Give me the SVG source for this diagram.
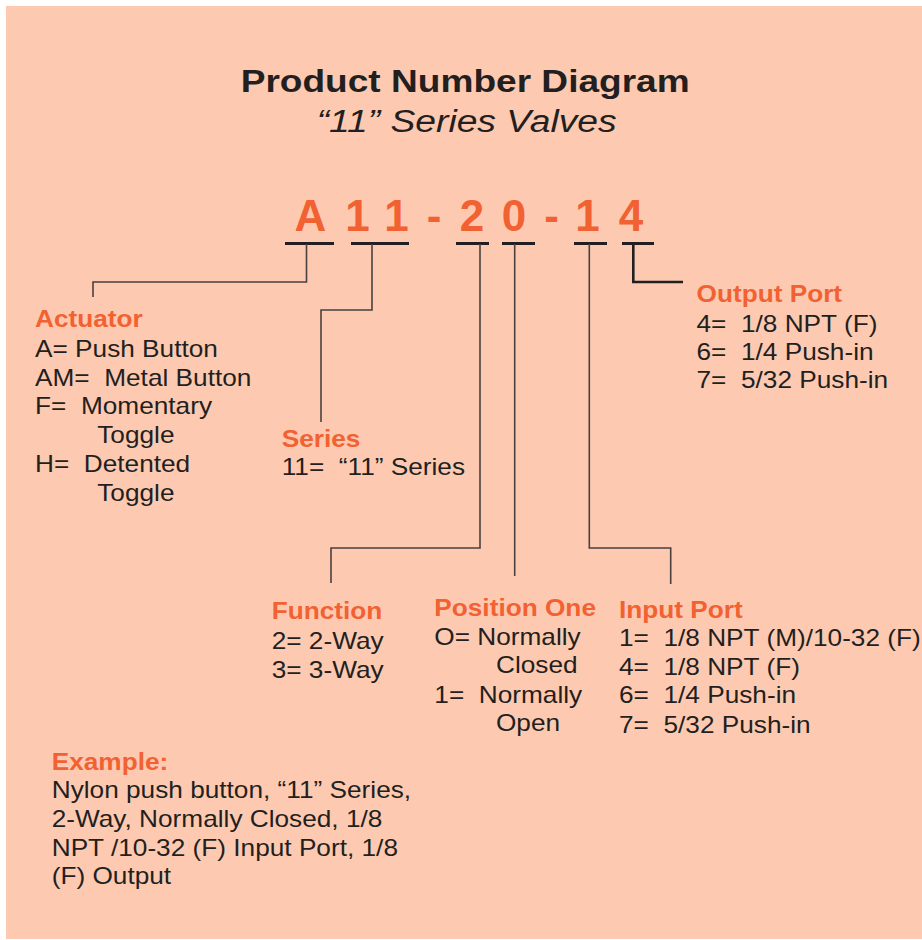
<svg xmlns="http://www.w3.org/2000/svg" width="922" height="940" viewBox="0 0 922 940" xml:space="preserve">
<style>
text{white-space:pre}
.t{font-family:"Liberation Sans",Arial,sans-serif;font-size:23px;fill:#231F20}
.h{font-family:"Liberation Sans",Arial,sans-serif;font-size:23px;font-weight:bold;fill:#F26131}
.code{font-family:"Liberation Sans",Arial,sans-serif;font-size:44px;font-weight:bold;fill:#F26131;text-anchor:middle}
.u{stroke:#231F20;stroke-width:3;fill:none}
.c{stroke:#4a4040;stroke-width:1.6;fill:none}
</style>
<rect x="0" y="0" width="922" height="940" fill="#FFFFFF"/>
<rect x="6" y="6" width="916" height="933" fill="#FDCAB1"/>
<g id="title">
<text x="240.7" y="92.3" textLength="449" lengthAdjust="spacingAndGlyphs" style="font-family:'Liberation Sans',Arial,sans-serif;font-size:31px;font-weight:bold;fill:#231F20">Product Number Diagram</text>
<text x="316.7" y="132.3" textLength="300" lengthAdjust="spacingAndGlyphs" style="font-family:'Liberation Sans',Arial,sans-serif;font-size:31px;font-style:italic;fill:#231F20">“11” Series Valves</text>
</g>
<g id="code">
<text class="code" x="310.3" y="230.7">A</text>
<text class="code" x="357.5" y="230.7">1</text>
<text class="code" x="396.5" y="230.7">1</text>
<text class="code" x="434" y="230.7">-</text>
<text class="code" x="472" y="230.7">2</text>
<text class="code" x="514" y="230.7">0</text>
<text class="code" x="551.5" y="230.7">-</text>
<text class="code" x="587.5" y="230.7">1</text>
<text class="code" x="631" y="230.7">4</text>
<path class="u" d="M285 243.5H334M351 243.5H409M456 243.5H489M502 243.5H535M574 243.5H607M622 243.5H654"/>
</g>
<g id="connectors">
<path class="c" d="M306.5 244V282H93V297"/>
<path class="c" d="M372 244V310H321V422"/>
<path class="c" d="M480 244V548H331V583"/>
<path class="c" d="M514.7 244V576"/>
<path class="c" d="M589.3 244V548H670.7V584"/>
<path d="M633.3 244V282H683" stroke="#231F20" stroke-width="2.6" fill="none"/>
</g>
<g id="actuator" transform="translate(35,0) scale(1.14,1)">
<text class="h" x="0" y="327.3">Actuator</text>
<text class="t" x="0" y="357.3">A= Push Button</text>
<text class="t" x="0" y="385.7">AM=  Metal Button</text>
<text class="t" x="0" y="414.5">F=  Momentary</text>
<text class="t" x="54.6" y="443.3">Toggle</text>
<text class="t" x="0" y="472.3">H=  Detented</text>
<text class="t" x="54.6" y="501">Toggle</text>
</g>
<g id="series" transform="translate(281.7,0) scale(1.14,1)">
<text class="h" x="0" y="446.7">Series</text>
<text class="t" x="0" y="475">11=  “11” Series</text>
</g>
<g id="output-port" transform="translate(696.5,0) scale(1.14,1)">
<text class="h" x="0" y="301.7">Output Port</text>
<text class="t" x="0" y="331.7">4=  1/8 NPT (F)</text>
<text class="t" x="0" y="360">6=  1/4 Push-in</text>
<text class="t" x="0" y="388.3">7=  5/32 Push-in</text>
</g>
<g id="function" transform="translate(271.7,0) scale(1.14,1)">
<text class="h" x="0" y="619.3">Function</text>
<text class="t" x="0" y="649">2= 2-Way</text>
<text class="t" x="0" y="677.7">3= 3-Way</text>
</g>
<g id="position-one" transform="translate(434.3,0) scale(1.14,1)">
<text class="h" x="0" y="615.7">Position One</text>
<text class="t" x="0" y="645">O= Normally</text>
<text class="t" x="54.1" y="673.3">Closed</text>
<text class="t" x="0" y="702.7">1=  Normally</text>
<text class="t" x="54.1" y="731">Open</text>
</g>
<g id="input-port" transform="translate(619,0) scale(1.14,1)">
<text class="h" x="0" y="618.3">Input Port</text>
<text class="t" x="0" y="646">1=  1/8 NPT (M)/10-32 (F)</text>
<text class="t" x="0" y="675">4=  1/8 NPT (F)</text>
<text class="t" x="0" y="703.3">6=  1/4 Push-in</text>
<text class="t" x="0" y="732.7">7=  5/32 Push-in</text>
</g>
<g id="example" transform="translate(51.7,0) scale(1.14,1)">
<text class="h" x="0" y="770">Example:</text>
<text class="t" x="0" y="798.3">Nylon push button, “11” Series,</text>
<text class="t" x="0" y="827.3">2-Way, Normally Closed, 1/8</text>
<text class="t" x="0" y="855.7">NPT /10-32 (F) Input Port, 1/8</text>
<text class="t" x="0" y="884.3">(F) Output</text>
</g>
</svg>
